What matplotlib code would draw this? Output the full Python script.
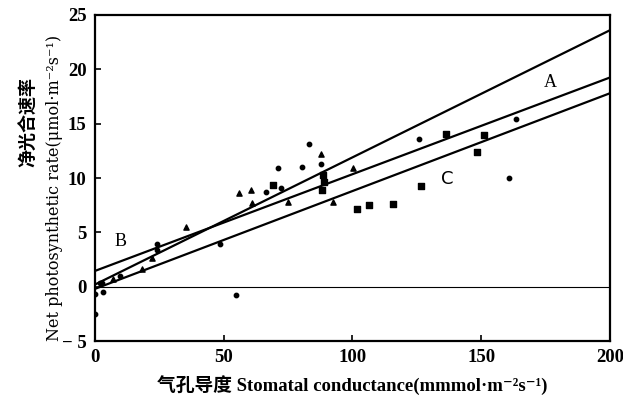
import matplotlib
matplotlib.use('Agg')
import matplotlib.pyplot as plt
from matplotlib.ticker import FuncFormatter
import numpy as np

plt.rcParams['font.family'] = ['Liberation Serif', 'DejaVu Serif', 'Noto Sans CJK SC']

# 散点数据 (气孔导度, 净光合速率)
tri_x = [56.0, 60.6, 87.6, 60.8, 75.1, 92.3, 100.3, 35.3, 18.1, 22.0, 7.1]
tri_y = [8.6, 8.9, 12.2, 7.7, 7.75, 7.75, 10.9, 5.5, 1.6, 2.65, 0.67]
dot_x = [66.3, 72.1, 71.2, 80.2, 83.1, 87.6, 48.5, 126.0, 163.5, 160.8, 54.8,
         23.9, 23.9, 9.7, 2.6, 3.2, 0.0, 0.0, 1.9]
dot_y = [8.7, 9.1, 10.9, 11.0, 13.1, 11.3, 3.9, 13.6, 15.4, 10.0, -0.75,
         3.9, 3.4, 0.98, 0.36, -0.5, -2.5, -0.7, 0.36]
sq_x = [69.3, 88.7, 88.9, 88.0, 136.3, 151.0, 148.2, 126.5, 101.6, 106.5, 115.6]
sq_y = [9.4, 10.25, 9.6, 8.9, 14.05, 13.95, 12.4, 9.3, 7.15, 7.5, 7.6]

# 回归线 (截距, 斜率)
line_a = (0.2, 0.117)
line_b = (1.45, 0.089)
line_c = (-0.2, 0.09)

fig = plt.figure(figsize=(6.23, 4.01), dpi=100)
ax = fig.add_axes([0.1525, 0.1496, 0.8266, 0.813])

xs = np.array([0, 200])
for b0, b1 in [line_a, line_b, line_c]:
    ax.plot(xs, b0 + b1 * xs, color='black', lw=1.6)
ax.axhline(0, color='black', lw=0.8)

ax.scatter(tri_x, tri_y, marker='^', s=14, color='black', zorder=3)
ax.scatter(dot_x, dot_y, marker='o', s=10, color='black', zorder=3)
ax.scatter(sq_x, sq_y, marker='s', s=14, color='black', zorder=3)

ax.text(176.7, 18.8, 'A', fontsize=13, ha='center', va='center')
ax.text(10.1, 4.2, 'B', fontsize=13, ha='center', va='center')
ax.text(136.7, 9.95, 'C', fontsize=13, ha='center', va='center',
        family=['DejaVu Sans'])

ax.set_xlim(0, 200)
ax.set_ylim(-5, 25)
ax.set_xticks([0, 50, 100, 150, 200])
ax.set_yticks([-5, 0, 5, 10, 15, 20, 25])
ax.yaxis.set_major_formatter(FuncFormatter(
    lambda v, p: '− {:d}'.format(int(-v)) if v < 0 else '{:d}'.format(int(v))))
ax.tick_params(direction='in', length=4, width=1.2, labelsize=13.5, pad=6)
for lab in ax.get_xticklabels() + ax.get_yticklabels():
    lab.set_fontweight('bold')
for sp in ax.spines.values():
    sp.set_linewidth(1.6)

fig.text(352 / 623, 1 - 385 / 401,
         '气孔导度 Stomatal conductance(mmmol·m⁻²s⁻¹)',
         fontsize=13.5, ha='center', va='center', fontweight='bold')
fig.text(55 / 623, 1 - 188 / 401,
         'Net photosynthetic rate(μmol·m⁻²s⁻¹)',
         fontsize=11.5, ha='center', va='center', rotation=90,
         family=['DejaVu Serif'])
fig.text(29 / 623, 1 - 122 / 401, '净光合速率',
         fontsize=13, ha='center', va='center', rotation=90, fontweight='bold',
         family=['Noto Sans CJK SC'])

fig.savefig('out.png', dpi=100)
